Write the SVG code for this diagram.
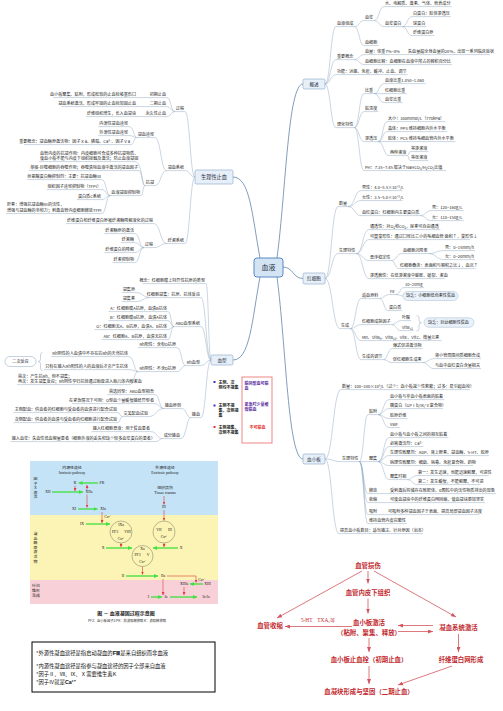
<svg xmlns="http://www.w3.org/2000/svg" width="503" height="711" viewBox="0 0 503 711">
<defs>
<style>
.t{font-family:"Noto Sans CJK SC","Noto Sans",sans-serif;font-size:4.1px;fill:#262626}
.e{text-anchor:end}
.u{fill:none;stroke:#8ba4bf;stroke-width:.45}
.c path{fill:none;stroke:#8ba4bf;stroke-width:.45}
.c path.m{stroke:#7393b3;stroke-width:.9}
.bx{fill:#e7eff9;stroke:#86a5c7;stroke-width:.6}
.sb{fill:#e9f1fa;stroke:#9bb5d0;stroke-width:.45}
.ct{font-family:"Noto Sans CJK SC",sans-serif;fill:#1f2d3d;text-anchor:middle}
.f{font-family:"Liberation Serif","Noto Sans CJK SC",serif;font-size:3.8px;fill:#1a1a1a;text-anchor:middle}
.fc{font-family:"Noto Sans CJK SC",sans-serif;font-size:3.9px;fill:#1a1a1a;text-anchor:middle}
.ga{stroke:#3fe03f;stroke-width:1.3;fill:none;marker-end:url(#mg)}
.ra{stroke:#e03a3a;stroke-width:.6;fill:none;marker-end:url(#mr)}
.fl{font-family:"Noto Sans CJK SC",sans-serif;font-size:6.4px;font-weight:700;fill:#c1272d;text-anchor:middle}
.fa{stroke:#d4555e;stroke-width:.8;fill:none;marker-end:url(#mf)}
.lg{font-family:"Noto Sans CJK SC",sans-serif;font-size:4px;font-weight:700;fill:#222}
.nb{font-family:"Noto Sans CJK SC",sans-serif;font-size:5.3px;fill:#111}
</style>
<marker id="mg" markerWidth="4" markerHeight="4" refX="4" refY="2" orient="auto" markerUnits="userSpaceOnUse"><path d="M0 0L4 2L0 4z" fill="#3fe03f"/></marker>
<marker id="mr" markerWidth="3" markerHeight="3" refX="3" refY="1.5" orient="auto" markerUnits="userSpaceOnUse"><path d="M0 0L3 1.5L0 3z" fill="#e03a3a"/></marker>
<marker id="mf" markerWidth="5" markerHeight="4" refX="5" refY="2" orient="auto" markerUnits="userSpaceOnUse"><path d="M0 0L5 2L0 4z" fill="#d4555e"/></marker>
</defs>
<rect width="503" height="711" fill="#ffffff"/>

<g id="connectors" class="c">
<path class="m" d="M277 258C286 190 288 84 303 84"/>
<path class="m" d="M283 267C293 267 293 278.5 303 278.5"/>
<path class="m" d="M277 277C286 345 288 459 303 459"/>
<path class="m" d="M260 258C252 215 250 177 233 177"/>
<path class="m" d="M260 277C252 320 250 360 233 360"/>
<path d="M325 84C330.5 84 330.5 26.6 336 26.6"/>
<path d="M325 84C330.5 84 330.5 59.6 336 59.6"/>
<path d="M325 84C330.5 84 330.5 74.6 336 74.6"/>
<path d="M325 84C330.5 84 330.5 127.6 336 127.6"/>
<path d="M354.4 26.6C359.2 26.6 359.2 20.6 364 20.6"/>
<path d="M354.4 26.6C359.2 26.6 359.2 45.6 364 45.6"/>
<path d="M374.2 20.6C379.1 20.6 379.1 6.6 384 6.6"/>
<path d="M374.2 20.6C379.1 20.6 379.1 26.6 384 26.6"/>
<path d="M402.4 26.6C407.2 26.6 407.2 16.6 412 16.6"/>
<path d="M402.4 26.6H412"/>
<path d="M402.4 26.6C407.2 26.6 407.2 35.6 412 35.6"/>
<path d="M354.4 59.6C359.2 59.6 359.2 54.6 364 54.6"/>
<path d="M354.4 59.6C359.2 59.6 359.2 64.6 364 64.6"/>
<path d="M354.4 127.6C359.2 127.6 359.2 93.6 364 93.6"/>
<path d="M354.4 127.6C359.2 127.6 359.2 111.6 364 111.6"/>
<path d="M354.4 127.6C359.2 127.6 359.2 141.6 364 141.6"/>
<path d="M354.4 127.6C359.2 127.6 359.2 170.6 364 170.6"/>
<path d="M374.2 93.6C379.1 93.6 379.1 83.6 384 83.6"/>
<path d="M374.2 93.6H384"/>
<path d="M374.2 93.6C379.1 93.6 379.1 102.6 384 102.6"/>
<path d="M378.3 141.6C382.7 141.6 382.7 121.6 387 121.6"/>
<path d="M378.3 141.6C382.7 141.6 382.7 131.6 387 131.6"/>
<path d="M378.3 141.6H387"/>
<path d="M378.3 141.6C383.6 141.6 383.6 155.6 389 155.6"/>
<path d="M407.4 155.6C408.7 155.6 408.7 151.6 410 151.6"/>
<path d="M407.4 155.6C408.7 155.6 408.7 160.6 410 160.6"/>
<path d="M325 278.5C331.5 278.5 331.5 206.6 338 206.6"/>
<path d="M325 278.5C331.5 278.5 331.5 253.6 338 253.6"/>
<path d="M325 278.5C332.5 278.5 332.5 328.6 340 328.6"/>
<path d="M348.2 206.6C354.6 206.6 354.6 190.6 361 190.6"/>
<path d="M348.2 206.6C354.6 206.6 354.6 200.6 361 200.6"/>
<path d="M348.2 206.6C354.6 206.6 354.6 215.6 361 215.6"/>
<path d="M420.4 215.6C425.7 215.6 425.7 210.6 431 210.6"/>
<path d="M420.4 215.6C425.7 215.6 425.7 220.6 431 220.6"/>
<path d="M356.4 253.6C362.7 253.6 362.7 229.6 369 229.6"/>
<path d="M356.4 253.6C362.7 253.6 362.7 239.6 369 239.6"/>
<path d="M356.4 253.6C362.7 253.6 362.7 260.6 369 260.6"/>
<path d="M356.4 253.6C362.7 253.6 362.7 278.6 369 278.6"/>
<path d="M391.5 260.6C396.5 260.6 396.5 253.6 402 253.6"/>
<path d="M391.5 260.6C395 260.6 395 268.6 399 268.6"/>
<path d="M428.6 253.6C436.3 253.6 436.3 250.6 444 250.6"/>
<path d="M428.6 253.6C436.3 253.6 436.3 259.6 444 259.6"/>
<path d="M350.2 328.6C355.6 328.6 355.6 298.6 361 298.6"/>
<path d="M350.2 328.6C355.6 328.6 355.6 324.6 361 324.6"/>
<path d="M350.2 328.6C355.6 328.6 355.6 340.6 361 340.6"/>
<path d="M350.2 328.6C355.6 328.6 355.6 359.6 361 359.6"/>
<path d="M379.4 298.6C384 298.6 384 294.6 389 294.6"/>
<path d="M379.4 298.6C384 298.6 384 310.6 388 310.6"/>
<path d="M395.8 294.6C400 294.6 400 287.6 404 287.6"/>
<path d="M395.8 294.6C400 294.6 400 296 403 296"/>
<path d="M391.7 324.6C396.3 324.6 396.3 320.6 401 320.6"/>
<path d="M391.7 324.6C396.3 324.6 396.3 330.6 401 330.6"/>
<path d="M383.5 359.6C387.8 359.6 387.8 348.6 392 348.6"/>
<path d="M383.5 359.6C387.8 359.6 387.8 362.6 392 362.6"/>
<path d="M422.7 362.6C428.3 362.6 428.3 358.6 434 358.6"/>
<path d="M422.7 362.6C428.3 362.6 428.3 368.6 434 368.6"/>
<path d="M325 459C333 459 333 389.6 341 389.6"/>
<path d="M325 459C333 459 333 461.6 341 461.6"/>
<path d="M325 459C332 459 332 533.6 339 533.6"/>
<path d="M359.4 461.6C363.7 461.6 363.7 414.6 368 414.6"/>
<path d="M359.4 461.6H368"/>
<path d="M359.4 461.6C363.7 461.6 363.7 493.6 368 493.6"/>
<path d="M359.4 461.6C363.7 461.6 363.7 502.6 368 502.6"/>
<path d="M359.4 461.6C363.7 461.6 363.7 514.6 368 514.6"/>
<path d="M359.4 461.6C363.7 461.6 363.7 523.6 368 523.6"/>
<path d="M378.2 414.6C383.6 414.6 383.6 399.6 389 399.6"/>
<path d="M378.2 414.6C383.6 414.6 383.6 408.6 389 408.6"/>
<path d="M378.2 414.6C383.6 414.6 383.6 418.6 389 418.6"/>
<path d="M378.2 414.6C383.6 414.6 383.6 427.6 389 427.6"/>
<path d="M378.2 461.6C383.6 461.6 383.6 437.6 389 437.6"/>
<path d="M378.2 461.6C383.6 461.6 383.6 446.6 389 446.6"/>
<path d="M378.2 461.6C383.6 461.6 383.6 455.6 389 455.6"/>
<path d="M378.2 461.6C383.6 461.6 383.6 465.6 389 465.6"/>
<path d="M378.2 461.6C383.6 461.6 383.6 479.6 389 479.6"/>
<path d="M407.4 479.6C412.2 479.6 412.2 475.6 417 475.6"/>
<path d="M407.4 479.6C412.2 479.6 412.2 484.6 417 484.6"/>
<path d="M378.2 493.6H389"/>
<path d="M378.2 502.6H389"/>
<path d="M378.2 514.6H387"/>
<path d="M195 177C190 177 190 111.6 185 111.6"/>
<path d="M195 177C190 177 190 170.6 185 170.6"/>
<path d="M195 177C190 177 190 243.6 185 243.6"/>
<path d="M174.8 111.6C170.9 111.6 170.9 97.6 167 97.6"/>
<path d="M174.8 111.6C170.9 111.6 170.9 106.6 167 106.6"/>
<path d="M174.8 111.6C170.9 111.6 170.9 116.6 167 116.6"/>
<path d="M148.6 97.6H137"/>
<path d="M148.6 106.6H137"/>
<path d="M144.5 116.6H137"/>
<path d="M166.6 170.6C160.8 170.6 160.8 137.6 155 137.6"/>
<path d="M166.6 170.6C160.8 170.6 160.8 185.6 155 185.6"/>
<path d="M136.6 137.6C133.8 137.6 133.8 126.6 129 126.6"/>
<path d="M136.6 137.6C133.8 137.6 133.8 135.6 129 135.6"/>
<path d="M136.6 137.6C133.8 137.6 133.8 144.6 131 144.6"/>
<path d="M144.8 185.6C142 185.6 142 161.6 135 161.6"/>
<path d="M144.8 185.6C142 185.6 142 170.6 139 170.6"/>
<path d="M144.8 185.6C143 185.6 143 195.6 141 195.6"/>
<path d="M110.3 195.6C106 195.6 106 179.6 102 179.6"/>
<path d="M110.3 195.6C106 195.6 106 189.6 102 189.6"/>
<path d="M110.3 195.6C106 195.6 106 199.6 102 199.6"/>
<path d="M110.3 195.6C106 195.6 106 213.6 102 213.6"/>
<path d="M166.6 243.6C160.3 243.6 160.3 223.6 154 223.6"/>
<path d="M166.6 243.6C160.3 243.6 160.3 247.6 154 247.6"/>
<path d="M143.8 247.6C139.4 247.6 139.4 233.6 135 233.6"/>
<path d="M143.8 247.6C139.4 247.6 139.4 242.6 135 242.6"/>
<path d="M143.8 247.6C139.4 247.6 139.4 252.6 135 252.6"/>
<path d="M143.8 247.6C139.4 247.6 139.4 262.6 135 262.6"/>
<path d="M211 360C208.5 360 208.5 283.6 206 283.6"/>
<path d="M211 360C206 360 206 297.6 201 297.6"/>
<path d="M211 360C206 360 206 326.6 201 326.6"/>
<path d="M211 360C206 360 206 365.6 201 365.6"/>
<path d="M211 360C206 360 206 417.6 201 417.6"/>
<path d="M149.8 297.6C143 297.6 143 292.6 136 292.6"/>
<path d="M149.8 297.6C143 297.6 143 301.6 136 301.6"/>
<path d="M173.9 326.6C171 326.6 171 311.6 168 311.6"/>
<path d="M173.9 326.6C171 326.6 171 320.6 168 320.6"/>
<path d="M173.9 326.6C171 326.6 171 329.6 168 329.6"/>
<path d="M173.9 326.6C171 326.6 171 339.6 168 339.6"/>
<path d="M185.7 365.6C181.4 365.6 181.4 347.6 177 347.6"/>
<path d="M185.7 365.6C181.4 365.6 181.4 371.6 177 371.6"/>
<path d="M138.1 371.6C134 371.6 134 356.6 129 356.6"/>
<path d="M138.1 371.6C134 371.6 134 369.6 129 369.6"/>
<path d="M138.1 371.6C134 371.6 134 384.6 130 384.6"/>
<path d="M190.8 417.6C186.4 417.6 186.4 408.6 182 408.6"/>
<path d="M190.8 417.6C186.4 417.6 186.4 438.6 181 438.6"/>
<path d="M163.6 408.6C159.3 408.6 159.3 394.6 155 394.6"/>
<path d="M163.6 408.6C159.3 408.6 159.3 403.6 155 403.6"/>
<path d="M163.6 408.6C156 408.6 156 416.6 149 416.6"/>
<path d="M122.4 416.6C120.2 416.6 120.2 412.6 118 412.6"/>
<path d="M122.4 416.6C120.2 416.6 120.2 422.6 118 422.6"/>
<path d="M162.6 438.6C157 438.6 157 431.6 151 431.6"/>
<path d="M162.6 438.6C159 438.6 159 441.6 156 441.6"/>
</g>

<g id="n-xueye"><rect x="254" y="258" width="29" height="19" rx="3" fill="#d3e4f4" stroke="#5a8ac0" stroke-width="1"/><text class="ct" x="268.5" y="270" font-size="7">血液</text></g>

<g id="n-gaishu"><rect class="bx" x="303" y="79" width="22" height="10" rx="1.5"/><text class="ct" x="314" y="85.7" font-size="4.6">概述</text></g>
<g id="n-a1"><text class="t" x="337" y="25.4">血液组成</text><path class="u" d="M336 26.6H354.4"/></g>
<g id="n-a1a"><text class="t" x="365" y="19.4">血浆</text><path class="u" d="M364 20.6H374.2"/></g>
<g id="n-a1a1"><text class="t" x="385" y="5.4">水、电解质、激素、气体、营养成分</text><path class="u" d="M384 6.6H451.6"/></g>
<g id="n-a1a2"><text class="t" x="385" y="25.4">血浆蛋白</text><path class="u" d="M384 26.6H402.4"/></g>
<g id="n-a1a2a"><text class="t" x="413" y="15.4">白蛋白：胶体渗透压</text><path class="u" d="M412 16.6H450.9"/></g>
<g id="n-a1a2b"><text class="t" x="413" y="25.4">球蛋白</text><path class="u" d="M412 26.6H426.3"/></g>
<g id="n-a1a2c"><text class="t" x="413" y="34.4">纤维蛋白原</text><path class="u" d="M412 35.6H434.5"/></g>
<g id="n-a1b"><text class="t" x="365" y="44.4">血细胞</text><path class="u" d="M364 45.6H378.3"/></g>
<g id="n-a2"><text class="t" x="337" y="58.4">重要概念</text><path class="u" d="M336 59.6H354.4"/></g>
<g id="n-a2a"><text class="t" x="365" y="53.4">血量：体重7%~8%<tspan x="408">失血量超全身血量的20%，出现一系列临床症状</tspan></text><path class="u" d="M364 54.6H490"/></g>
<g id="n-a2b"><text class="t" x="365" y="63.4">血细胞比容：血细胞在血液中所占的容积百分比</text><path class="u" d="M364 64.6H452"/></g>
<g id="n-a3"><text class="t" x="337" y="73.4">功能：运输、免疫、缓冲、止血、调节</text><path class="u" d="M336 74.6H407.7"/></g>
<g id="n-a4"><text class="t" x="337" y="126.4">理化特性</text><path class="u" d="M336 127.6H354.4"/></g>
<g id="n-a4a"><text class="t" x="365" y="92.4">比重</text><path class="u" d="M364 93.6H374.2"/></g>
<g id="n-a4a1"><text class="t" x="385" y="82.4">血液比重1.050~1.060</text><path class="u" d="M384 83.6H425.7"/></g>
<g id="n-a4a2"><text class="t" x="385" y="92.4">红细胞比重</text><path class="u" d="M384 93.6H406.5"/></g>
<g id="n-a4a3"><text class="t" x="385" y="101.4">血浆比重</text><path class="u" d="M384 102.6H402.4"/></g>
<g id="n-a4b"><text class="t" x="365" y="110.4">粘滞度</text><path class="u" d="M364 111.6H378.3"/></g>
<g id="n-a4c"><text class="t" x="365" y="140.4">渗透压</text><path class="u" d="M364 141.6H378.3"/></g>
<g id="n-a4c1"><text class="t" x="388" y="120.4">大小：300mmol/L（770kPa）</text><path class="u" d="M387 121.6H445.4"/></g>
<g id="n-a4c2"><text class="t" x="388" y="130.4">晶体：PPS 维持细胞内外水平衡</text><path class="u" d="M387 131.6H447.4"/></g>
<g id="n-a4c3"><text class="t" x="388" y="140.4">胶体：PCS 维持毛细血管内外水平衡</text><path class="u" d="M387 141.6H455.6"/></g>
<g id="n-a4c4"><text class="t" x="390" y="154.4">两种溶液</text><path class="u" d="M389 155.6H407.4"/></g>
<g id="n-a4c4a"><text class="t" x="411" y="150.4">等渗溶液</text><path class="u" d="M410 151.6H428.4"/></g>
<g id="n-a4c4b"><text class="t" x="411" y="159.4">等张溶液</text><path class="u" d="M410 160.6H428.4"/></g>
<g id="n-a4d"><text class="t" x="365" y="169.4">PH：7.35~7.45 取决于NaHCO₃/H₂CO₃比值</text><path class="u" d="M364 170.6H446"/></g>

<g id="n-hongxibao"><rect class="bx" x="303" y="273" width="22" height="11" rx="1.5"/><text class="ct" x="314" y="280.2" font-size="4.6">红细胞</text></g>
<g id="n-b1"><text class="t" x="339" y="205.4">数量</text><path class="u" d="M338 206.6H348.2"/></g>
<g id="n-b1a"><text class="t" x="362" y="189.4">男性：4.0~5.5×10¹²/L</text><path class="u" d="M361 190.6H402.5"/></g>
<g id="n-b1b"><text class="t" x="362" y="199.4">女性：3.5~5.0×10¹²/L</text><path class="u" d="M361 200.6H402.5"/></g>
<g id="n-b1c"><text class="t" x="362" y="214.4">血红蛋白：红细胞内主要蛋白质</text><path class="u" d="M361 215.6H420.4"/></g>
<g id="n-b1c1"><text class="t" x="432" y="209.4">男：120~160g/L</text><path class="u" d="M431 210.6H463.8"/></g>
<g id="n-b1c2"><text class="t" x="432" y="219.4">女：110~150g/L</text><path class="u" d="M431 220.6H463.8"/></g>
<g id="n-b2"><text class="t" x="339" y="252.4">生理特性</text><path class="u" d="M338 253.6H356.4"/></g>
<g id="n-b2a"><text class="t" x="370" y="228.4">通透性：对O₂和CO₂，尿素可自由通透</text><path class="u" d="M369 229.6H440.4"/></g>
<g id="n-b2b"><text class="t" x="370" y="238.4">可塑变形性：通过口径比它小的毛细血管 面积↑，变形性↓</text><path class="u" d="M369 239.6H470"/></g>
<g id="n-b2c"><text class="t" x="370" y="259.4">悬浮稳定性</text><path class="u" d="M369 260.6H391.5"/></g>
<g id="n-b2c1"><text class="t" x="403" y="252.4">血细胞沉降率</text><path class="u" d="M402 253.6H428.6"/></g>
<g id="n-b2c1a"><text class="t" x="445" y="249.4">男：0~15mm/h</text><path class="u" d="M444 250.6H475"/></g>
<g id="n-b2c1b"><text class="t" x="445" y="258.4">女：0~20mm/h</text><path class="u" d="M444 259.6H475"/></g>
<g id="n-b2c2"><text class="t" x="400" y="267.4">红细胞叠连：表面积与容积之比↓，血沉↑</text><path class="u" d="M399 268.6H475.7"/></g>
<g id="n-b2d"><text class="t" x="370" y="277.4">渗透脆性：在低渗溶液中膨胀、破裂、溶血</text><path class="u" d="M369 278.6H444.8"/></g>
<g id="n-b3"><text class="t" x="341" y="327.4">生成</text><path class="u" d="M340 328.6H350.2"/></g>
<g id="n-b3a"><text class="t" x="362" y="297.4">造血原料</text><path class="u" d="M361 298.6H379.4"/></g>
<g id="n-b3a1"><text class="t" x="390" y="293.4">Fe</text><path class="u" d="M389 294.6H395.8"/></g>
<g id="n-b3a1a"><text class="t" x="405" y="286.4">10~20mg</text><path class="u" d="M404 287.6H424.2"/></g>
<g id="n-b3a1b"><rect class="sb" x="403" y="291.5" width="55" height="9" rx="4.5"/><text class="t" x="406" y="297.4">缺乏：小细胞低色素性贫血</text></g>
<g id="n-b3a2"><text class="t" x="389" y="309.4">蛋白质</text><path class="u" d="M388 310.6H402.3"/></g>
<g id="n-b3b"><text class="t" x="362" y="323.4">红细胞成熟因子</text><path class="u" d="M361 324.6H391.7"/></g>
<g id="n-b3b1"><text class="t" x="402" y="319.4">叶酸</text><path class="u" d="M401 320.6H411.2"/></g>
<g id="n-b3b2"><text class="t" x="402" y="329.4">VitB₁₂</text><path class="u" d="M401 330.6H413.8"/></g>
<g id="n-b3b-sum"><path class="u" d="M416.5 315.5Q419 315.5 419 318V320.5Q419 322.8 421.5 322.8Q419 322.8 419 325V328.5Q419 331 416.5 331"/><rect class="sb" x="424" y="317.8" width="50" height="9.5" rx="4.75"/><text class="t" x="428" y="323.9">缺乏：巨幼细胞性贫血</text></g>
<g id="n-b3c"><text class="t" x="362" y="339.4">Mn、VitB₆、VitB₁₂、VitE、VitC、微量元素</text><path class="u" d="M361 340.6H441.5"/></g>
<g id="n-b3d"><text class="t" x="362" y="358.4">生成的调节</text><path class="u" d="M361 359.6H383.5"/></g>
<g id="n-b3d1"><text class="t" x="393" y="347.4">爆式促进激活物</text><path class="u" d="M392 348.6H422.7"/></g>
<g id="n-b3d2"><text class="t" x="393" y="361.4">促红细胞生成素</text><path class="u" d="M392 362.6H422.7"/></g>
<g id="n-b3d2a"><text class="t" x="435" y="357.4">肾小管周围间质细胞合成</text><path class="u" d="M434 358.6H481.1"/></g>
<g id="n-b3d2b"><text class="t" x="435" y="367.4">与血中血红蛋白含量相关</text><path class="u" d="M434 368.6H481.1"/></g>

<g id="n-xuexiaoban"><rect class="bx" x="303" y="454" width="22" height="10" rx="1.5"/><text class="ct" x="314" y="460.7" font-size="4.6">血小板</text></g>
<g id="n-c1"><text class="t" x="342" y="388.4">数量：100~300×10⁹/L（过少：血小板减少性紫癜；过多：易引起血栓）</text><path class="u" d="M341 389.6H470"/></g>
<g id="n-c2"><text class="t" x="342" y="460.4">生理特性</text><path class="u" d="M341 461.6H359.4"/></g>
<g id="n-c2a"><text class="t" x="369" y="413.4">粘附</text><path class="u" d="M368 414.6H378.2"/></g>
<g id="n-c2a1"><text class="t" x="390" y="398.4">血小板与非血小板表面的粘着</text><path class="u" d="M389 399.6H444.3"/></g>
<g id="n-c2a2"><text class="t" x="390" y="407.4">糖蛋白（GPⅠb/Ⅸ/Ⅴ复合物）</text><path class="u" d="M389 408.6H443"/></g>
<g id="n-c2a3"><text class="t" x="390" y="417.4">胶原纤维</text><path class="u" d="M389 418.6H407.4"/></g>
<g id="n-c2a4"><text class="t" x="390" y="426.4">vWF</text><path class="u" d="M389 427.6H399.8"/></g>
<g id="n-c2b"><text class="t" x="369" y="460.4">聚集</text><path class="u" d="M368 461.6H378.2"/></g>
<g id="n-c2b1"><text class="t" x="390" y="436.4">血小板与血小板之间的相互粘着</text><path class="u" d="M389 437.6H448.4"/></g>
<g id="n-c2b2"><text class="t" x="390" y="445.4">必需激活剂：Ca²⁺</text><path class="u" d="M389 446.6H423.5"/></g>
<g id="n-c2b3"><text class="t" x="390" y="454.4">生理性致聚剂：ADP、肾上腺素、凝血酶、5-HT、胶原</text><path class="u" d="M389 455.6H489"/></g>
<g id="n-c2b4"><text class="t" x="390" y="464.4">病理性致聚剂：细菌、病毒、免疫复合物、药物</text><path class="u" d="M389 465.6H473"/></g>
<g id="n-c2b5"><text class="t" x="390" y="478.4">聚集时相</text><path class="u" d="M389 479.6H407.4"/></g>
<g id="n-c2b5a"><text class="t" x="418" y="474.4">第一：发生迅速，也能迅速解聚，可逆性</text><path class="u" d="M417 475.6H488.7"/></g>
<g id="n-c2b5b"><text class="t" x="418" y="483.4">第二：发生缓慢，不能解聚，不可逆</text><path class="u" d="M417 484.6H480.5"/></g>
<g id="n-c2c"><text class="t" x="369" y="492.4">释放</text><path class="u" d="M368 493.6H378.2"/></g>
<g id="n-c2c1"><text class="t" x="390" y="492.4">受刺激后将储存在致密体、α颗粒中的活性物质排出的现象</text><path class="u" d="M389 493.6H496"/></g>
<g id="n-c2d"><text class="t" x="369" y="501.4">收缩</text><path class="u" d="M368 502.6H378.2"/></g>
<g id="n-c2d1"><text class="t" x="390" y="501.4">可使血凝块中的纤维蛋白网回缩，使血凝块更加坚实</text><path class="u" d="M389 502.6H485.3"/></g>
<g id="n-c2e"><text class="t" x="369" y="513.4">吸附</text><path class="u" d="M368 514.6H378.2"/></g>
<g id="n-c2e1"><text class="t" x="388" y="513.4">可吸附多种凝血因子于表面，提高局部凝血因子浓度</text><path class="u" d="M387 514.6H479.2"/></g>
<g id="n-c2f"><text class="t" x="369" y="522.4">维持血管内皮完整性</text><path class="u" d="M368 523.6H406.9"/></g>
<g id="n-c3"><text class="t" x="340" y="532.4">提高血小板数目：适当输注、针对原因（治本）</text><path class="u" d="M339 533.6H423"/></g>

<g id="n-zhixue"><rect class="bx" x="195" y="170" width="38" height="14" rx="1.5"/><text class="ct" x="214" y="178.9" font-size="5.2">生理性止血</text></g>
<g id="n-d1"><text class="t e" x="184" y="110.4">过程</text><path class="u" d="M174.8 111.6H185"/></g>
<g id="n-d1a"><text class="t e" x="166" y="96.4">初期止血</text><path class="u" d="M148.6 97.6H167"/></g>
<g id="n-d1a1"><text class="t e" x="136" y="96.4">血小板聚集、粘附，形成松软的止血栓堵塞伤口</text><path class="u" d="M53 97.6H137"/></g>
<g id="n-d1b"><text class="t e" x="166" y="105.4">二期止血</text><path class="u" d="M148.6 106.6H167"/></g>
<g id="n-d1b1"><text class="t e" x="136" y="105.4">凝血系统激活，形成牢固的止血栓加固止血</text><path class="u" d="M61.2 106.6H137"/></g>
<g id="n-d1c"><text class="t e" x="166" y="115.4">永久性止血</text><path class="u" d="M144.5 116.6H167"/></g>
<g id="n-d1c1"><text class="t e" x="136" y="115.4">纤维组织增生，长入血凝块</text><path class="u" d="M85.8 116.6H137"/></g>
<g id="n-d2"><text class="t e" x="184" y="169.4">凝血系统</text><path class="u" d="M166.6 170.6H185"/></g>
<g id="n-d2a"><text class="t e" x="154" y="136.4">凝血途径</text><path class="u" d="M136.6 137.6H155"/></g>
<g id="n-d2a1"><text class="t e" x="128" y="125.4">内源性凝血途径</text><path class="u" d="M98.3 126.6H129"/></g>
<g id="n-d2a2"><text class="t e" x="128" y="134.4">外源性凝血途径</text><path class="u" d="M98.3 135.6H129"/></g>
<g id="n-d2a3"><text class="t e" x="130" y="143.4">重要概念：凝血酶原激活物：因子Ⅹa、磷脂、Ca²⁺、因子Ⅴa</text><path class="u" d="M24 144.6H131"/></g>
<g id="n-d2b"><text class="t e" x="154" y="184.4">抗凝</text><path class="u" d="M144.8 185.6H155"/></g>
<g id="n-d2b1"><text class="t" x="40" y="155.4">血管内皮的抗凝作用：内皮细胞可合成多种抗凝物质、</text><text class="t" x="40" y="160.4">使血小板不能与内皮下组织接触及激活；防止血液凝固</text><path class="u" d="M39 161.6H135"/></g>
<g id="n-d2b2"><text class="t e" x="138" y="169.4">单核-巨噬细胞的吞噬作用；吞噬清除血液中激活的凝血因子</text><path class="u" d="M29 170.6H139"/></g>
<g id="n-d2b3"><text class="t e" x="140" y="194.4">血液凝固抑制物</text><path class="u" d="M110.3 195.6H141"/></g>
<g id="n-d2b3a"><text class="t e" x="101" y="178.4">丝氨酸蛋白酶抑制剂：主要：抗凝血酶Ⅲ</text><path class="u" d="M27.3 179.6H102"/></g>
<g id="n-d2b3b"><text class="t e" x="101" y="188.4">组织因子途径抑制物（TFPI）</text><path class="u" d="M46.8 189.6H102"/></g>
<g id="n-d2b3c"><text class="t e" x="101" y="198.4">蛋白质C系统</text><path class="u" d="M76.9 199.6H102"/></g>
<g id="n-d2b3d"><text class="t" x="7" y="206.4">肝素：增强抗凝血酶Ⅲ的活性，</text><text class="t" x="7" y="212.4">增强与凝血酶的亲和力；刺激血管内皮细胞释放TFPI</text><path class="u" d="M6 213.6H102"/></g>
<g id="n-d3"><text class="t e" x="184" y="242.4">纤溶系统</text><path class="u" d="M166.6 243.6H185"/></g>
<g id="n-d3a"><text class="t e" x="153" y="222.4">纤维蛋白和纤维蛋白原被纤溶酶降解液化的过程</text><path class="u" d="M65.9 223.6H154"/></g>
<g id="n-d3b"><text class="t e" x="153" y="246.4">过程</text><path class="u" d="M143.8 247.6H154"/></g>
<g id="n-d3b1"><text class="t e" x="134" y="232.4">纤溶酶原的激活</text><path class="u" d="M104.3 233.6H135"/></g>
<g id="n-d3b2"><text class="t e" x="134" y="241.4">纤溶酶</text><path class="u" d="M120.7 242.6H135"/></g>
<g id="n-d3b3"><text class="t e" x="134" y="251.4">纤维蛋白的降解</text><path class="u" d="M104.3 252.6H135"/></g>
<g id="n-d3b4"><text class="t e" x="134" y="261.4">纤溶抑制物</text><path class="u" d="M112.5 262.6H135"/></g>

<g id="n-xuexing"><rect class="bx" x="211" y="355" width="22" height="10" rx="1.5"/><text class="ct" x="222" y="361.7" font-size="4.6">血型</text></g>
<g id="n-e1"><text class="t e" x="205" y="282.4">概念：红细胞膜上特异性抗原的类型</text><path class="u" d="M142.5 283.6H206"/></g>
<g id="n-e2"><text class="t e" x="200" y="296.4">红细胞凝集：抗原、抗体反应</text><path class="u" d="M149.8 297.6H201"/></g>
<g id="n-e2a"><text class="t e" x="135" y="291.4">凝集原</text><path class="u" d="M121.7 292.6H136"/></g>
<g id="n-e2b"><text class="t e" x="135" y="300.4">凝集素</text><path class="u" d="M121.7 301.6H136"/></g>
<g id="n-e3"><text class="t e" x="200" y="325.4">ABO血型系统</text><path class="u" d="M173.9 326.6H201"/></g>
<g id="n-e3a"><text class="t e" x="167" y="310.4">A：红细胞膜A抗原，血清B抗体</text><path class="u" d="M108.5 311.6H168"/></g>
<g id="n-e3b"><text class="t e" x="167" y="319.4">B：红细胞膜B抗原，血清A抗体</text><path class="u" d="M108.5 320.6H168"/></g>
<g id="n-e3c"><text class="t e" x="167" y="328.4">O：红细胞无A、B抗原，血清A、B抗体</text><path class="u" d="M94.4 329.6H168"/></g>
<g id="n-e3d"><text class="t e" x="167" y="338.4">AB：红细胞A、B抗原，血清无抗体</text><path class="u" d="M101.7 339.6H168"/></g>
<g id="n-e4"><text class="t e" x="200" y="364.4">Rh血型</text><path class="u" d="M185.7 365.6H201"/></g>
<g id="n-e4a"><text class="t e" x="176" y="346.4">Rh阳性：含有D抗原</text><path class="u" d="M138.1 347.6H177"/></g>
<g id="n-e4b"><text class="t e" x="176" y="370.4">Rh阴性：不含D抗原</text><path class="u" d="M138.1 371.6H177"/></g>
<g id="n-e4b1"><text class="t e" x="128" y="355.4">Rh阴性的人血清中不存在抗Rh的天然抗体</text><path class="u" d="M51.2 356.6H129"/></g>
<g id="n-e4b2"><text class="t e" x="128" y="368.4">只有在输入Rh阳性的人的血液后才会产生抗体</text><path class="u" d="M44 369.6H129"/></g>
<g id="n-e4b-sum"><path class="u" d="M42.5 352.5Q40.5 352.5 40.5 355V359.3Q40.5 361.5 38.3 361.5Q40.5 361.5 40.5 363.7V368Q40.5 370.5 42.5 370.5"/><rect x="5" y="356.5" width="31" height="10" rx="5" fill="#ffffff" stroke="#8ba4bf" stroke-width=".5"/><text class="ct" x="20.5" y="363" font-size="4.1">二次反应</text></g>
<g id="n-e4b3"><text class="t" x="18" y="378.4">首次：产生抗Rh，但不凝集；</text><text class="t" x="18" y="383.4">再次：发生凝集反应；Rh阴性孕妇抗体通过胎盘进入胎儿体内致溶血</text><path class="u" d="M17 384.6H130"/></g>
<g id="n-e5"><text class="t e" x="200" y="416.4">输血</text><path class="u" d="M190.8 417.6H201"/></g>
<g id="n-e5a"><text class="t e" x="181" y="407.4">输血原则</text><path class="u" d="M163.6 408.6H182"/></g>
<g id="n-e5a1"><text class="t e" x="154" y="393.4">首选同型：ABO血型相合</text><path class="u" d="M107.4 394.6H155"/></g>
<g id="n-e5a2"><text class="t e" x="154" y="402.4">在紧急情况下可用：O型血少量缓慢输给异型者</text><path class="u" d="M71.9 403.6H155"/></g>
<g id="n-e5a3"><text class="t e" x="148" y="415.4">交叉配血试验</text><path class="u" d="M122.4 416.6H149"/></g>
<g id="n-e5a3a"><text class="t e" x="117" y="411.4">主侧配血：供血者的红细胞与受血者的血清进行配合试验</text><path class="u" d="M13.5 412.6H118"/></g>
<g id="n-e5a3b"><text class="t e" x="117" y="421.4">次侧配血：供血者的血清与受血者的红细胞进行配合试验</text><path class="u" d="M13.5 422.6H118"/></g>
<g id="n-e5b"><text class="t e" x="180" y="437.4">成分输血</text><path class="u" d="M162.6 438.6H181"/></g>
<g id="n-e5b1"><text class="t e" x="150" y="430.4">输入红细胞悬液：用于贫血患者</text><path class="u" d="M91.6 431.6H151"/></g>
<g id="n-e5b2"><text class="t e" x="155" y="440.4">输入血浆：失血性低血容量患者（细胞外液的丢失和缺少较多血浆蛋白的患者）</text><path class="u" d="M10.5 441.6H156"/></g>

<g id="legend">
<rect x="213.5" y="381" width="2" height="2" fill="#3535c8"/>
<text class="lg" x="218.5" y="384.4">主侧、次</text><text class="lg" x="218.5" y="389.4">侧均不凝集</text>
<rect x="213.5" y="404.5" width="2" height="2" fill="#3535c8"/>
<text class="lg" x="218.5" y="407.4">主侧不凝</text><text class="lg" x="218.5" y="412.4">集，次侧凝</text><text class="lg" x="218.5" y="417.4">集</text>
<rect x="213.5" y="426" width="2" height="2" fill="#e23030"/>
<text class="lg" x="218.5" y="428.9">主侧凝集，</text><text class="lg" x="218.5" y="433.9">次侧不凝集</text>
<rect x="242" y="377" width="30" height="66" fill="#ffffff" stroke="#f08585" stroke-width="1"/>
<text class="lg" x="244.5" y="384.6" style="fill:#5a2ca0" font-size="4.3">输同型血可输</text>
<text class="lg" x="244.5" y="390.4" style="fill:#5a2ca0" font-size="4.3">血</text>
<text class="lg" x="244.5" y="405.6" style="fill:#5a2ca0" font-size="4.3">紧急时少量缓</text>
<text class="lg" x="244.5" y="411.4" style="fill:#5a2ca0" font-size="4.3">慢输血</text>
<text class="lg" x="249.5" y="428.6" style="fill:#e53030" font-size="4.3">不可输血</text>
</g>

<g id="coag-figure">
<rect x="30" y="461" width="188" height="54" fill="#c5e3f6"/>
<rect x="30" y="515" width="188" height="65" fill="#fbf4b4"/>
<rect x="30" y="580" width="188" height="24" fill="#f7d0d8"/>
<text class="fc" x="35.5" y="480" font-size="4"><tspan x="35.5">因</tspan><tspan x="35.5" dy="4.6">子</tspan><tspan x="35.5" dy="4.6">Ⅹ</tspan><tspan x="35.5" dy="4.6">激</tspan><tspan x="35.5" dy="4.6">活</tspan></text>
<text class="fc" x="35.5" y="535" font-size="4"><tspan x="35.5">凝</tspan><tspan x="35.5" dy="4.6">血</tspan><tspan x="35.5" dy="4.6">酶</tspan><tspan x="35.5" dy="4.6">原</tspan><tspan x="35.5" dy="4.6">激</tspan><tspan x="35.5" dy="4.6">活</tspan><tspan x="35.5" dy="4.6">物</tspan></text>
<text class="fc" x="34" y="586.5" font-size="3.2"><tspan x="34">纤</tspan><tspan x="34" dy="5.2">维</tspan><tspan x="34" dy="5.2">蛋</tspan></text>
<text class="fc" x="38" y="586.5" font-size="3.2"><tspan x="38">白</tspan><tspan x="38" dy="5.2">形</tspan><tspan x="38" dy="5.2">成</tspan></text>
<text class="fc" x="72" y="469.3">内源性途径</text>
<text class="f" x="72" y="474" font-size="3.4">Intrinsic pathway</text>
<text class="fc" x="165" y="469.3">外源性途径</text>
<text class="f" x="165" y="474" font-size="3.4">Extrinsic pathway</text>
<text class="fc" x="165" y="489.3">组织损伤</text>
<text class="f" x="165" y="494" font-size="3.4">Tissue trauma</text>
<text class="f" x="48" y="493.3">XII</text>
<text class="f" x="89" y="493.3">XIIa</text>
<text class="f" x="75" y="484.3">K</text>
<text class="f" x="102" y="484.3">PK</text>
<text class="f" x="74" y="510.3">XI</text>
<text class="f" x="103" y="510.3">XIa</text>
<text class="f" x="107.5" y="518.3" font-size="3.2">Ca²⁺</text>
<text class="f" x="82" y="525.3">IX</text>
<text class="f" x="164" y="508.3">III</text>
<circle cx="121" cy="532" r="11" fill="none" stroke="#555" stroke-width=".4"/>
<text class="f" x="121" y="526.3" font-size="3.4">IXa</text>
<text class="f" x="115" y="532.8" font-size="3.4">PF3</text>
<text class="f" x="127.5" y="532.8" font-size="3.4">VIII</text>
<text class="f" x="121" y="539.5" font-size="3.2">Ca²⁺</text>
<circle cx="164" cy="532" r="11" fill="none" stroke="#555" stroke-width=".4"/>
<text class="f" x="159" y="530.8" font-size="3.4">VII</text>
<text class="f" x="170" y="530.8" font-size="3.4">III</text>
<text class="f" x="164" y="538" font-size="3.2">Ca²⁺</text>
<text class="f" x="103" y="549.3">X</text>
<text class="f" x="181" y="549.3">X</text>
<circle cx="142.5" cy="556" r="10.5" fill="none" stroke="#555" stroke-width=".4"/>
<text class="f" x="142.5" y="550.3" font-size="3.4">Xa</text>
<text class="f" x="137.5" y="556.3" font-size="3.4">PF3</text>
<text class="f" x="148" y="556.3" font-size="3.4">V</text>
<text class="f" x="142.5" y="562.5" font-size="3.2">Ca²⁺</text>
<text class="f" x="123" y="577.3">II</text>
<text class="f" x="163" y="577.3">IIa</text>
<text class="f" x="201.5" y="580.5" font-size="3.2">Ca²⁺</text>
<text class="f" x="184" y="585.3">XIIIa</text>
<text class="f" x="207.5" y="585.3">XIII</text>
<text class="f" x="148.5" y="598.3">I</text>
<text class="f" x="166" y="598.3">Ia</text>
<text class="f" x="206" y="598.3">Ia·Ia</text>
<path class="ga" d="M52 492H83"/>
<path class="ga" d="M98 483H78.5"/>
<path class="ga" d="M78 509H97.5"/>
<path class="ga" d="M86 524H110"/>
<path class="ga" d="M106 548H132"/>
<path class="ga" d="M178 548H153"/>
<path class="ga" d="M126 576H158"/>
<path class="ga" d="M203 584H190"/>
<path class="ga" d="M151 597H162"/>
<path class="ga" d="M170 597H197"/>
<path class="ra" d="M75 485.5V491"/>
<path class="ra" d="M87 490V485"/>
<path class="ra" d="M87 494.5V507.5"/>
<path class="ra" d="M102 512V523"/>
<path class="ra" d="M164 496V504.5"/>
<path class="ra" d="M164 510V520.5"/>
<path class="ra" d="M121 543V547"/>
<path class="ra" d="M164 543V547"/>
<path class="ra" d="M142.5 566.5V574.5"/>
<path class="ra" d="M167 576H196V582.5"/>
<path class="ra" d="M163 579V595"/>
<path class="ra" d="M184 587V595"/>
<text x="126" y="614.8" font-family="Noto Sans CJK SC,sans-serif" font-size="5" font-weight="700" fill="#222" text-anchor="middle">图 － 血液凝固过程示意图</text>
<text x="127" y="622.2" font-family="Noto Sans CJK SC,sans-serif" font-size="3.3" fill="#333" text-anchor="middle">PF3：血小板因子3    PK：前激肽释放酶    K：激肽释放酶</text>
</g>

<g id="note-box">
<rect x="32" y="642" width="183" height="50" fill="#ffffff" stroke="#000" stroke-width="1"/>
<text class="nb" x="36" y="654.5">*外源性凝血途径是指启动凝血的<tspan font-family="Liberation Sans,sans-serif" font-weight="700" font-size="6">FⅢ</tspan>是来自组织而非血液</text>
<text class="nb" x="36" y="668.2">*内源性凝血途径是指参与凝血途径的因子全部来自血液</text>
<text class="nb" x="36" y="675.9">*因子Ⅱ、Ⅶ、Ⅸ、Ⅹ需要维生素K</text>
<text class="nb" x="36" y="683.6">*因子Ⅳ就是<tspan font-family="Liberation Sans,sans-serif" font-weight="700">Ca²⁺</tspan></text>
</g>

<g id="flowchart">
<g id="flow-connectors">
<path class="fa" d="M368 571V583.5"/>
<path class="fa" d="M368 598.5V613.5"/>
<path class="fa" d="M362 571L277 618"/>
<path class="fa" d="M352 626.5H285"/>
<path class="fa" d="M374 571L456 617"/>
<path class="fa" d="M433 625.5H398"/>
<path class="fa" d="M398 631.5H433"/>
<path class="fa" d="M369 638V652"/>
<path class="fa" d="M458.5 634V652"/>
<path class="fa" d="M369 666V684"/>
<path class="fa" d="M452 666L398 685"/>
</g>
<g id="f-sunshang"><text class="fl" x="368" y="568.3">血管损伤</text></g>
<g id="f-neipi"><text class="fl" x="368" y="595.3">血管内皮下组织</text></g>
<g id="f-jihuo"><text class="fl" x="369" y="625.3">血小板激活</text><text class="fl" x="369" y="635.3">（粘附、聚集、释放）</text></g>
<g id="f-shousuo"><text class="fl" x="270" y="628.3">血管收缩</text></g>
<g id="f-5ht"><text x="318" y="622" font-family="Liberation Serif,serif" font-size="5.3" fill="#c1272d" text-anchor="middle">5-HT、TXA₂等</text></g>
<g id="f-ningxue"><text class="fl" x="458.5" y="630.3">凝血系统激活</text></g>
<g id="f-shuan"><text class="fl" x="369" y="662.3">血小板止血栓（初期止血）</text></g>
<g id="f-xianwei"><text class="fl" x="461" y="662.3">纤维蛋白网形成</text></g>
<g id="f-ningkuai"><text class="fl" x="369" y="694.3">血凝块形成与坚固（二期止血）</text></g>
</g>
</svg>
